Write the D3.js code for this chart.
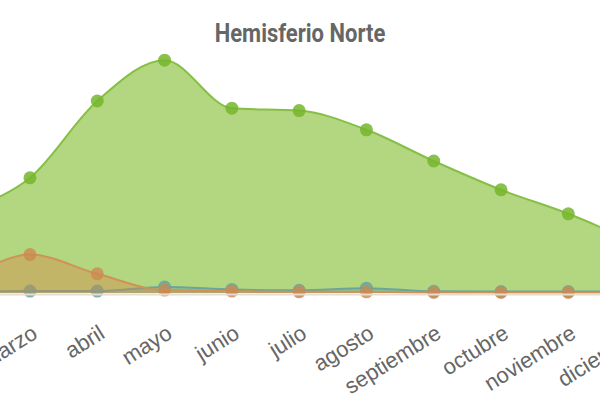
<!DOCTYPE html>
<html>
<head>
<meta charset="utf-8">
<script src="https://cdn.jsdelivr.net/npm/d3@7"></script>
<style>
  body { margin: 0; background: #fff; }
  #chart { width: 600px; height: 400px; overflow: hidden; }
</style>
</head>
<body>
<div id="chart"></div>
<script>
// months on the x axis
var months = ["enero", "febrero", "marzo", "abril", "mayo", "junio",
  "julio", "agosto", "septiembre", "octubre", "noviembre", "diciembre"];

// series values
var verde = [25, 34, 48, 80, 97, 77, 76, 68, 55, 43, 33, 21];
var naranja = [3, 7, 16, 8, 1.2, 0.8, 0.5, 0.5, 0.2, 0.2, 0.2, 0.2];
var azul = [0.5, 0.6, 0.8, 0.8, 2.5, 1.5, 1.1, 2, 0.7, 0.6, 0.6, 0.6];

// drawing order: green at the back, orange on top
var series = [
  { name: "verde", values: verde, fill: "rgba(150,200,80,0.72)", line: "#86bf45", point: "rgba(118,182,45,0.85)" },
  { name: "azul", values: azul, fill: "rgba(90,160,170,0.4)", line: "#6aa59b", point: "rgba(100,165,160,0.85)" },
  { name: "naranja", values: naranja, fill: "rgba(214,134,70,0.42)", line: "#cf9257", point: "rgba(205,138,80,0.8)" }
];

var width = 600, height = 400;

var svg = d3.select("#chart").append("svg")
  .attr("width", width)
  .attr("height", height);

// the plot is wider than the window, so enero/febrero fall off the left edge
var x = d3.scalePoint()
  .domain(months)
  .range([-104.6, 635.6]);

var y = d3.scaleLinear()
  .domain([0, 100])
  .range([293, 53]);

svg.append("text")
  .attr("transform", "translate(300,42) scale(1,1.2)")
  .attr("text-anchor", "middle")
  .style("font-family", "Roboto, sans-serif")
  .style("font-weight", "bold")
  .style("font-size", "22px")
  .style("fill", "#666")
  .text("Hemisferio Norte");

var area = d3.area()
  .x(function(d, i) { return x(months[i]); })
  .y0(y(0))
  .y1(function(d) { return y(d); })
  .curve(d3.curveMonotoneX);

var line = d3.line()
  .x(function(d, i) { return x(months[i]); })
  .y(function(d) { return y(d); })
  .curve(d3.curveMonotoneX);

series.forEach(function(s) {
  var g = svg.append("g").attr("class", "serie " + s.name);
  g.append("path")
    .attr("d", area(s.values))
    .attr("fill", s.fill);
  g.append("path")
    .attr("d", line(s.values))
    .attr("fill", "none")
    .attr("stroke", s.line)
    .attr("stroke-width", 2);
  g.selectAll("circle")
    .data(s.values)
    .enter().append("circle")
    .attr("cx", function(d, i) { return x(months[i]); })
    .attr("cy", function(d) { return y(d); })
    .attr("r", 6.5)
    .attr("fill", s.point);
});

// baseline
svg.append("line")
  .attr("x1", 0).attr("x2", width)
  .attr("y1", y(0) + 1.5).attr("y2", y(0) + 1.5)
  .attr("stroke", "#e6ddd0")
  .attr("stroke-width", 2);

// rotated month labels
svg.append("g")
  .selectAll("text")
  .data(months)
  .enter().append("text")
  .attr("transform", function(d) {
    return "translate(" + (x(d) + 9) + ",337) rotate(-32)";
  })
  .attr("text-anchor", "end")
  .style("font-family", "'Liberation Sans', Arial, sans-serif")
  .style("font-size", "22px")
  .style("fill", "#666")
  .text(function(d) { return d; });
</script>
</body>
</html>
